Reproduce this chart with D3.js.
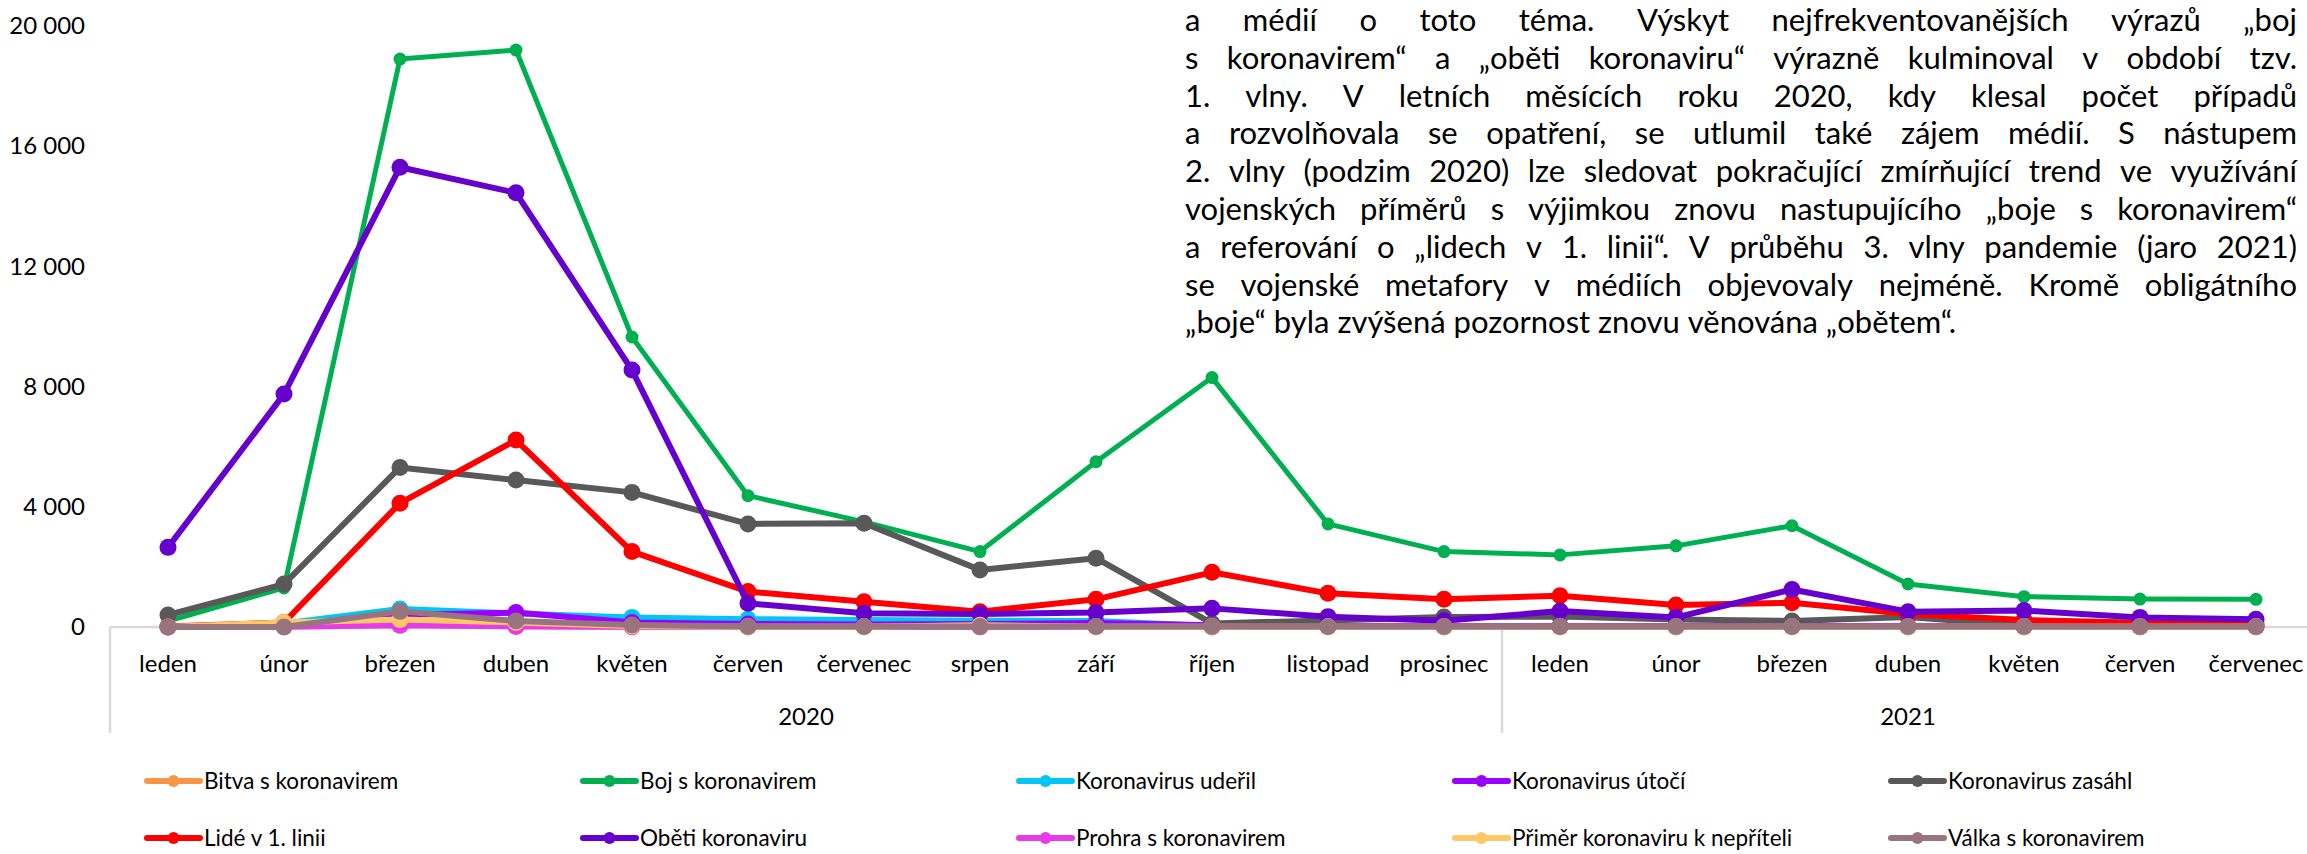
<!DOCTYPE html>
<html><head><meta charset="utf-8">
<script src="https://cdn.jsdelivr.net/npm/d3@7"></script>
<style>
html,body{margin:0;padding:0;background:#fff;overflow:hidden}
svg{display:block}
text{font-family:Lato,"Open Sans",sans-serif;fill:#000}
</style></head><body>
<svg id="chart" width="2307" height="854"></svg>
<script>
// ---------- DATA ----------
const months = ["leden","únor","březen","duben","květen","červen","červenec","srpen","září","říjen","listopad","prosinec",
                "leden","únor","březen","duben","květen","červen","červenec"];
const years = ["2020","2020","2020","2020","2020","2020","2020","2020","2020","2020","2020","2020",
               "2021","2021","2021","2021","2021","2021","2021"];
const yTicks = [0, 4000, 8000, 12000, 16000, 20000];

const seriesNames = ["Bitva s koronavirem","Boj s koronavirem","Koronavirus udeřil","Koronavirus útočí","Koronavirus zasáhl",
                     "Lidé v 1. linii","Oběti koronaviru","Prohra s koronavirem","Přiměr koronaviru k nepříteli","Válka s koronavirem"];
const seriesColors = ["#F79646","#00B050","#00C5F5","#9B00FF","#595959","#FF0000","#6600CC","#E63BE6","#FFC866","#98747F"];

const bitva  = [0, 20, 60, 30, 10, 5, 5, 5, 5, 5, 5, 5, 5, 5, 5, 5, 5, 5, 5];
const boj    = [200, 1300, 18900, 19200, 9650, 4370, 3500, 2510, 5500, 8300, 3430, 2510, 2400, 2700, 3370, 1430, 1010, 930, 920];
const uderil = [0, 120, 600, 450, 320, 260, 230, 210, 200, 30, 10, 10, 10, 10, 10, 10, 10, 10, 10];
const utoci  = [0, 50, 400, 480, 150, 100, 80, 100, 130, 60, 40, 30, 30, 30, 30, 30, 20, 20, 20];
const zasahl = [400, 1430, 5310, 4890, 4480, 3430, 3450, 1900, 2290, 120, 220, 330, 350, 250, 200, 330, 40, 20, 20];
const lide   = [20, 150, 4120, 6220, 2510, 1180, 840, 510, 920, 1820, 1120, 920, 1040, 730, 810, 430, 230, 140, 100];
const obeti  = [2650, 7750, 15300, 14450, 8550, 790, 455, 430, 480, 620, 345, 210, 530, 320, 1250, 510, 545, 320, 255];
const prohra = [0, 10, 60, 20, 10, 5, 5, 5, 10, 5, 5, 5, 5, 5, 5, 5, 5, 5, 5];
const primer = [0, 150, 250, 150, 30, 10, 5, 60, 10, 5, 5, 5, 5, 5, 5, 5, 5, 5, 5];
const valka  = [0, 0, 520, 200, 70, 20, 20, 20, 20, 20, 20, 20, 20, 20, 20, 20, 20, 20, 20];

const seriesValues = [bitva, boj, uderil, utoci, zasahl, lide, obeti, prohra, primer, valka];

const noteLines = [
  "a médií o toto téma. Výskyt nejfrekventovanějších výrazů „boj",
  "s koronavirem“ a „oběti koronaviru“ výrazně kulminoval v období tzv.",
  "1. vlny. V letních měsících roku 2020, kdy klesal počet případů",
  "a rozvolňovala se opatření, se utlumil také zájem médií. S nástupem",
  "2. vlny (podzim 2020) lze sledovat pokračující zmírňující trend ve využívání",
  "vojenských příměrů s výjimkou znovu nastupujícího „boje s koronavirem“",
  "a referování o „lidech v 1. linii“. V průběhu 3. vlny pandemie (jaro 2021)",
  "se vojenské metafory v médiích objevovaly nejméně. Kromě obligátního",
  "„boje“ byla zvýšená pozornost znovu věnována „obětem“."
];

// ---------- CHART ----------
const svg = d3.select("#chart");
const idx = d3.range(months.length);
const x = d3.scaleBand().domain(idx).range([110, 2314]).padding(0);
const cx = i => x(i) + x.bandwidth() / 2;
const y = d3.scaleLinear().domain([0, 20000]).range([627, 26]);

// y axis labels
const yAxis = d3.axisLeft(y).tickValues(yTicks).tickSize(0).tickPadding(27)
  .tickFormat(v => d3.format(",")(v).replace(/,/g, " "));
const gy = svg.append("g").attr("transform", "translate(112,0)").call(yAxis);
gy.select(".domain").remove();
gy.selectAll("text").attr("font-size", 24).attr("font-family", "Lato");

// x axis line & separators
svg.append("line").attr("x1", 110).attr("x2", 2314).attr("y1", y(0)).attr("y2", y(0))
  .attr("stroke", "#D9D9D9").attr("stroke-width", 2.5);
const yearGroups = d3.groups(idx, i => years[i]);
const sepX = [x(0)].concat(yearGroups.map(g => x(g[1][g[1].length - 1]) + x.bandwidth()));
svg.selectAll("line.sep").data(sepX).join("line").attr("class", "sep")
  .attr("x1", d => d).attr("x2", d => d).attr("y1", y(0)).attr("y2", 733)
  .attr("stroke", "#D9D9D9").attr("stroke-width", 2.5);

const xAxis = d3.axisBottom(x).tickSize(0).tickPadding(28).tickFormat(i => months[i]);
const gx = svg.append("g").attr("transform", `translate(0,${y(0)})`).call(xAxis);
gx.select(".domain").remove();
gx.selectAll("text").attr("font-size", 24).attr("font-family", "Lato");

svg.selectAll("text.year").data(yearGroups).join("text").attr("class", "year")
  .attr("x", g => (x(g[1][0]) + x(g[1][g[1].length - 1]) + x.bandwidth()) / 2)
  .attr("y", 725).attr("text-anchor", "middle").attr("font-size", 24)
  .text(g => g[0]);

// series
const line = d3.line().x((d, i) => cx(i)).y(d => y(d)).curve(d3.curveLinear);
seriesValues.forEach((vals, s) => {
  const g = svg.append("g");
  const isBoj = s === 1;
  g.append("path").attr("d", line(vals)).attr("fill", "none")
    .attr("stroke", seriesColors[s]).attr("stroke-width", isBoj ? 5 : 6)
    .attr("stroke-linejoin", "round").attr("stroke-linecap", "round");
  g.selectAll("circle").data(vals).join("circle")
    .attr("cx", (d, i) => cx(i)).attr("cy", d => y(d))
    .attr("r", isBoj ? 6.5 : 8.5).attr("fill", seriesColors[s]);
});

// legend
const legend = svg.append("g");
seriesNames.forEach((name, s) => {
  const col = s % 5, row = Math.floor(s / 5);
  const lx = 147 + col * 436, ly = row === 0 ? 781 : 838;
  const g = legend.append("g").attr("transform", `translate(${lx},${ly})`);
  g.append("line").attr("x1", 0).attr("x2", 53).attr("y1", 0).attr("y2", 0)
    .attr("stroke", seriesColors[s]).attr("stroke-width", 6).attr("stroke-linecap", "round");
  g.append("circle").attr("cx", 26.5).attr("cy", 0).attr("r", 6).attr("fill", seriesColors[s]);
  g.append("text").attr("x", 57).attr("y", 0).attr("dy", "0.35em")
    .attr("font-size", 22.5).text(name);
});

// paragraph (justified, slightly condensed)
const pLeft = 1185, pRight = 2297, pBase = 31, pGap = 37.8, W = pRight - pLeft;
const meas = svg.append("text").attr("x", -9999).attr("y", -9999);
function tw(str, size) { meas.attr("font-size", size).text(str); return meas.node().getComputedTextLength(); }
const fs = 31;
const maxW = d3.max(noteLines.slice(0, -1), l => tw(l, fs));
const k = Math.min(1, W * 0.995 / maxW);
const Wl = W / k;
const spaceW = tw("a a", fs) - tw("aa", fs);
const para = svg.append("g").attr("transform", `translate(${pLeft},0) scale(${k},1)`);
noteLines.forEach((l, li) => {
  const words = l.split(" ");
  const ws = words.map(w => tw(w, fs));
  const last = li === noteLines.length - 1;
  const gap = last ? spaceW : (Wl - d3.sum(ws)) / (words.length - 1);
  const t = para.append("text").attr("y", pBase + li * pGap).attr("font-size", fs);
  let cxp = 0;
  words.forEach((w, j) => {
    t.append("tspan").attr("x", cxp).text(w + (j < words.length - 1 ? " " : ""));
    cxp += ws[j] + gap;
  });
});
meas.remove();
</script>
</body></html>
